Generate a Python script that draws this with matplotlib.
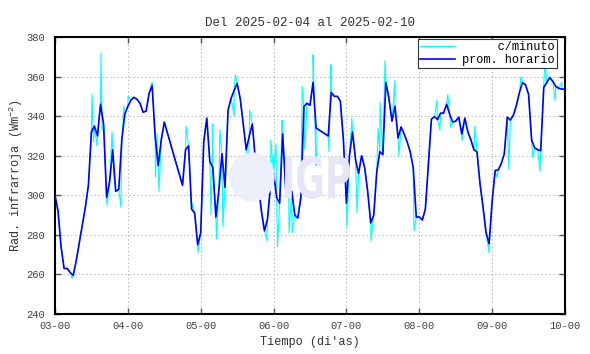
import numpy as np
import matplotlib
matplotlib.use("Agg")
import matplotlib.pyplot as plt
from matplotlib.patches import Ellipse, PathPatch
from matplotlib.textpath import TextPath
from matplotlib.font_manager import FontProperties
from matplotlib.transforms import Affine2D

plt.rcParams["font.family"] = ["Liberation Mono", "DejaVu Sans Mono"]
plt.rcParams["mathtext.fontset"] = "custom"
plt.rcParams["mathtext.rm"] = "Liberation Mono"

# ── hourly averages (one list per day, None = no data) ──────────────────────
day3 = [300, 292, 274, 263, 263, 261, 259.5, 267, 276, 285, 294, 305,
        332, 335, 330, 346, 336, 299, 307, 323, 302, 303, 328, 341]
day4 = [345, 348, 349.5, 348.5, 346.5, 342, 342.5, 351.5, 355.5, 329.5, 315, 328,
        337, None, None, None, None, None, 305, 323, 325, 293, 291, 275]
day5 = [281, 327, 339, 317, 314, 289, 303, 321, 304, 343, 349, 353,
        356.5, 349, 336, 323, 330, 336, 318, 305, 292, 282, 288, 305]
day6 = [311.5, 299, 296, 331, 303, 300, 302, 290, 288.5, 299, 345, 346.5,
        345.5, 357, 334, None, None, None, 330, 352, 350, 350, 347.5, 328]
day7 = [296, 320, 332, 318, 311, 320, 314, 302, 286, 290, 312, 322,
        320.5, 357, 349, 337.5, 345, 329, 334.5, 331, 327, 322, 314, 289]
day8 = [289, 287.5, 293, 316, 338.5, 339.7, 338.3, 341.5, 341.5, 346, 341, 337,
        337.5, 339.5, 331, 339, 332, 328, 323, 322, 306, 294, 281, 275.5]
day9 = [297, 312.5, 312.8, 316, 321, 339.5, 338, 340.5, 345.5, 352, 357, 355.8,
        351, 328, 324, 323, 322.5, 354.5, 357, 359.5, 357.5, 355, 354, 353.7]
day10 = [353.5]

# ── per-minute excursions (hours since 03-00) ───────────────────────────────
spike_h = [5.6, 12.2, 12.7, 13.8, 14.5, 15.15, 15.5, 17.1, 18.8, 19.4, 21.7, 22.7,
           24.05, 31.95, 33.1, 33.6, 34.25, 43.15, 45.1, 47.1,
           51.4, 52.0, 53.2, 54.3, 55.3, 59.0, 59.45, 63.6, 64.1, 69.8, 71.1, 72.8, 73.3,
           74.8, 77.1, 78.1, 81.4, 82.3, 85.0, 86.0, 90.25, 90.9, 96.2,
           97.8, 99.5, 104.1, 106.4, 107.05, 108.7, 112.0, 113.3, 118.25,
           125.8, 126.8, 129.4, 130.4, 134.1, 138.3, 139.3, 142.95,
           145.6, 149.5, 153.5, 157.4, 159.75, 161.4, 164.7, 167.0]
spike_v = [258, 351, 327, 325, 340, 372, 333, 295, 332, 310, 294, 345,
           350, 357, 309, 331, 302, 335, 296, 271,
           290, 336, 278, 333, 284, 340, 361, 303, 343, 277, 328, 326, 274,
           338, 281, 281, 355, 323, 371, 315, 322, 366, 284,
           339, 291, 277, 334, 347, 368, 358, 320, 282,
           348, 333, 351, 334, 328, 335, 317, 271,
           309, 313, 360, 319, 312, 368, 348, 357]

days = [day3, day4, day5, day6, day7, day8, day9, day10]
first_day = 3
xtick_days = [3, 4, 5, 6, 7, 8, 9, 10]


def main():
    # hourly series as (time in days, value), gaps dropped so the line bridges them
    hrs, vals = [], []
    for i, d in enumerate(days):
        for h, v in enumerate(d):
            if v is not None:
                hrs.append(i * 24 + h)
                vals.append(v)
    hrs = np.array(hrs, dtype=float)
    vals = np.array(vals, dtype=float)

    # minute trace: hourly values merged with the read spikes
    mh = np.concatenate([hrs, spike_h])
    mv = np.concatenate([vals, spike_v])
    order = np.argsort(mh)
    mh, mv = mh[order], mv[order]

    fig = plt.figure(figsize=(5.9, 3.54), dpi=100)
    ax = fig.add_axes([55 / 590, 1 - 314 / 354, 510 / 590, 277 / 354])

    # watermark (faint logo behind the data)
    fig.add_artist(Ellipse((252 / 590, 1 - 177 / 354), 44 / 590, 48 / 354,
                           transform=fig.transFigure, color="#eceefa", zorder=0.5))
    tp = TextPath((0, 0), "IGP", size=10, prop=FontProperties(family="DejaVu Sans", weight="bold"))
    bb = tp.get_extents()
    sx = (350 - 285) / bb.width
    sy = 43 / bb.height
    tr = Affine2D().translate(-bb.x0, -bb.y0).scale(sx, sy).translate(285, 354 - 199)
    fig.add_artist(PathPatch(tr.transform_path(tp), transform=None,
                             color="#e6e6f6", lw=0, zorder=0.5))

    ax.set_facecolor("none")
    ax.plot(first_day + mh / 24, mv, color="#00ffff", lw=0.8, label="     c/minuto", zorder=2)
    ax.plot(first_day + hrs / 24, vals, color="#0000ff", lw=1.2, label="prom. horario", zorder=3)

    ax.set_xlim(3, 10)
    ax.set_ylim(240, 380)
    ax.set_xticks(xtick_days)
    ax.set_xticklabels([f"{d:02d}-00" for d in xtick_days])
    ax.set_yticks(np.arange(240, 381, 20))
    ax.tick_params(direction="in", length=4, width=1, top=True, right=True,
                   labelsize=7.6, colors="#555555", labelcolor="#444444")
    ax.tick_params(axis="y", pad=7)
    ax.tick_params(axis="x", pad=5)
    ax.grid(True, color="#b8b8b8", linestyle=(0, (1.5, 2.5)), lw=0.7)
    for s in ax.spines.values():
        s.set_linewidth(1.5)

    ax.set_title("Del 2025-02-04 al 2025-02-10", fontsize=9, color="#333333", pad=8)
    ax.set_xlabel("Tiempo (di'as)", fontsize=8.6, color="#333333", labelpad=4)
    ax.set_ylabel(r"Rad. infrarroja (Wm$^{-2}$)", fontsize=8.6, color="#333333", labelpad=1)

    leg = ax.legend(loc="upper right", bbox_to_anchor=(1 - 8 / 510, 1 - 2 / 277),
                    fontsize=8.6, frameon=True, fancybox=False, framealpha=1,
                    edgecolor="#333333", handlelength=2.9, handletextpad=0.6,
                    borderpad=0.2, labelspacing=0.05, borderaxespad=0)
    leg.get_frame().set_linewidth(0.8)

    fig.savefig("out.png", dpi=100)


if __name__ == "__main__":
    main()
